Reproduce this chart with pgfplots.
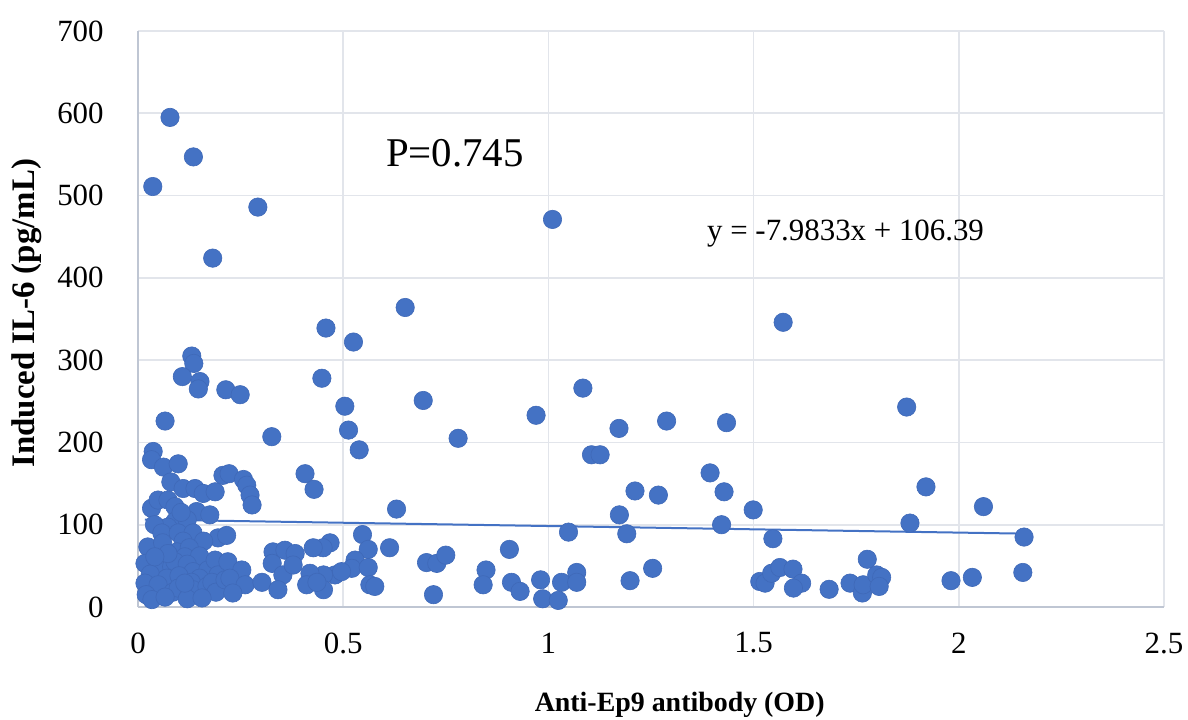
\documentclass[border=0pt]{standalone}
\usepackage{fontspec}
\setmainfont{Liberation Serif}
\usepackage{pgfplots}
\pgfplotsset{compat=1.18}
\usetikzlibrary{calc}
\definecolor{dotc}{HTML}{4472C4}
\definecolor{dotedge}{HTML}{3F69B8}
\definecolor{gridc}{HTML}{E2E5EB}
\definecolor{axisc}{HTML}{BFC6D3}
\begin{document}
\begin{tikzpicture}
\begin{axis}[
  scale only axis, width=513bp, height=288bp,
  xmin=0, xmax=2.5, ymin=0, ymax=700,
  xtick={0,0.5,1,1.5,2,2.5}, ytick={0,100,200,300,400,500,600,700},
  xticklabels={0,0.5,1,1.5,2,2.5},
  grid=major, major grid style={draw=gridc, line width=0.8bp},
  axis x line*=bottom, axis y line*=left,
  axis line style={draw=axisc, line width=1.1bp},
  major tick length=0pt,
  /pgf/number format/assume math mode=true,
  xticklabel style={font=\fontsize{15.5}{18}\selectfont, anchor=center, inner sep=0pt, yshift=-18bp},
  yticklabel style={font=\fontsize{15.5}{18}\selectfont, anchor=east, inner sep=0pt, xshift=-17bp},
  xlabel={\bfseries Anti-Ep9 antibody (OD)},
  ylabel={\bfseries Induced IL-6 (pg/mL)},
  xlabel style={font=\fontsize{14}{16}\selectfont, at={(rel axis cs:0.528,0)}, anchor=center, inner sep=0pt, yshift=-49bp},
  ylabel style={font=\fontsize{16.5}{19}\selectfont, at={(rel axis cs:0,0.51)}, anchor=center, inner sep=0pt, yshift=55.5bp},
  clip=false,
]
\addplot[only marks, mark=*, mark size=4.6bp, mark options={fill=dotc, draw=dotedge, line width=0.3bp}] table {
x y
0.078 595
0.135 547
0.036 511
0.292 486
0.182 424
1.010 471
0.651 364
0.458 339
0.525 322
1.572 346
0.131 305
0.136 296
0.108 280
0.151 274
0.147 265
0.214 264
0.249 258
0.448 278
0.504 244
0.695 251
0.066 226
0.513 215
0.539 191
0.780 205
0.970 233
1.084 266
1.172 217
1.288 226
1.434 224
1.873 243
0.326 207
0.037 189
0.033 179
0.062 170
0.098 174
0.207 160
0.222 162
0.257 155
0.265 148
0.273 136
0.278 124
0.407 162
0.429 143
1.105 185
1.126 185
1.211 141
1.268 136
1.173 112
1.191 89
1.049 91
0.905 70
0.630 119
1.394 163
1.428 140
1.499 118
1.422 100
1.920 146
2.060 122
1.881 102
1.547 83
2.159 85
2.156 42
1.254 47
1.515 31
1.528 29
1.544 41
1.564 48
1.596 46
1.617 29
1.597 23
1.684 21.5
1.735 29
1.777 58
1.765 17
1.767 27
1.800 39
1.812 36
1.806 25
1.981 32
2.033 36
0.468 78
0.451 72
0.547 88
0.561 70
0.613 72
0.529 57
0.521 47
0.561 48
0.480 39
0.496 43
0.452 39
0.452 21
0.565 27
0.577 25
0.703 54
0.728 53
0.750 63
0.720 15
0.848 45
0.841 27
0.910 30
0.931 19
0.981 33
0.986 10
1.024 8
1.032 30
1.069 42
1.069 30
1.199 32
0.080 152
0.110 144
0.139 144
0.159 138
0.188 140
0.033 120
0.049 130
0.073 130
0.090 122
0.143 116
0.175 112
0.090 104
0.120 106
0.105 115
0.073 97
0.040 100
0.058 90
0.098 90
0.134 90
0.195 84
0.216 87
0.024 73
0.060 78
0.110 80
0.160 80
0.095 67
0.125 72
0.114 61
0.150 62
0.017 53
0.045 45
0.058 47
0.082 49
0.090 55
0.120 52
0.134 43
0.170 45
0.188 57
0.195 39
0.030 40
0.070 35
0.100 38
0.150 35
0.017 29
0.049 27
0.085 18
0.098 23
0.130 30
0.134 21
0.168 25
0.180 30
0.190 18
0.212 33
0.020 15
0.034 9
0.066 12
0.120 10
0.156 11
0.114 29
0.073 65
0.041 61
0.219 55
0.253 45
0.224 35
0.261 27
0.231 17
0.302 30
0.329 67
0.358 69
0.383 65
0.327 53
0.353 39
0.378 51
0.341 21
0.427 72
0.419 41
0.411 27
0.436 30
};
\addplot[no marks, draw=dotc, line width=1bp] coordinates {(0.017,106.25) (2.159,89.15)};
\node[anchor=base, inner sep=0pt, font=\fontsize{20.5}{24}\selectfont] at (axis cs:0.772,535) {P=0.745};
\node[anchor=base west, inner sep=0pt, font=\fontsize{15.5}{18}\selectfont] at (axis cs:1.386,445) {y = -7.9833x + 106.39};
\coordinate (sw) at (rel axis cs:0,0);
\end{axis}
\pgfresetboundingbox
\path ($(sw)+(-69bp,-56.5bp)$) rectangle ($(sw)+(525bp,303.5bp)$);
\end{tikzpicture}
\end{document}
